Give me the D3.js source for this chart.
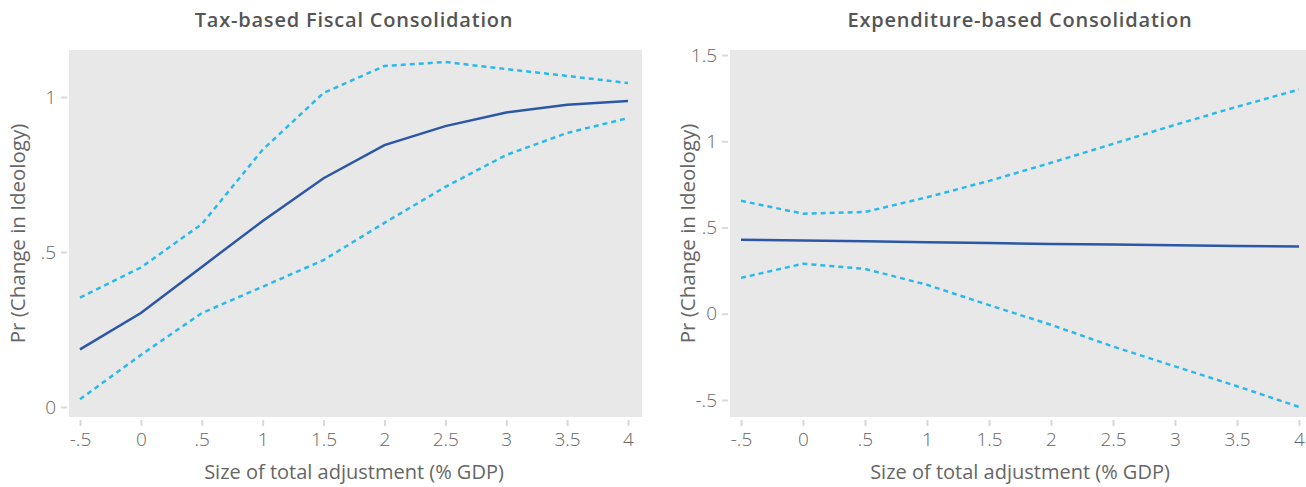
<!DOCTYPE html>
<html>
<head>
<meta charset="utf-8">
<script src="https://cdn.jsdelivr.net/npm/d3@7"></script>
<style>
  body { margin: 0; background: #fff; }
  text { font-family: "Open Sans", "Lato", sans-serif; }
</style>
</head>
<body>
<div id="chart"></div>
<script>
// x values shared by both panels
let xVals = [-0.5, 0, 0.5, 1, 1.5, 2, 2.5, 3, 3.5, 4];

// tax-based panel
let taxMean  = [0.186, 0.303, 0.452, 0.600, 0.738, 0.845, 0.906, 0.950, 0.975, 0.987];
let taxUpper = [0.353, 0.450, 0.590, 0.830, 1.013, 1.100, 1.113, 1.090, 1.068, 1.045];
let taxLower = [0.025, 0.168, 0.303, 0.388, 0.474, 0.594, 0.710, 0.813, 0.884, 0.932];

// expenditure-based panel
let expMean  = [0.429, 0.425, 0.420, 0.415, 0.410, 0.405, 0.401, 0.397, 0.393, 0.390];
let expUpper = [0.655, 0.580, 0.590, 0.675, 0.770, 0.875, 0.985, 1.095, 1.200, 1.300];
let expLower = [0.208, 0.290, 0.260, 0.168, 0.050, -0.064, -0.190, -0.305, -0.420, -0.540];

let xTicks = [-0.5, 0, 0.5, 1, 1.5, 2, 2.5, 3, 3.5, 4];
let taxYTicks = [0, 0.5, 1];
let expYTicks = [-0.5, 0, 0.5, 1, 1.5];

let titles = ["Tax-based Fiscal Consolidation", "Expenditure-based Consolidation"];
let xTitle = "Size of total adjustment (% GDP)";
let yTitle = "Pr (Change in Ideology)";

let svg = d3.select("#chart").append("svg").attr("width", 1306).attr("height", 487);

let fmt = d => d === 0 ? "0" : String(d).replace("0.", ".");

let panels = [
  {title: titles[0], mean: taxMean, upper: taxUpper, lower: taxLower, yTicks: taxYTicks,
   x: d3.scaleLinear().domain([-0.5, 4]).range([80, 628]),
   y: d3.scaleLinear().domain([0, 1]).range([407, 97]),
   bg: [69, 642], yTitleX: 25},
  {title: titles[1], mean: expMean, upper: expUpper, lower: expLower, yTicks: expYTicks,
   x: d3.scaleLinear().domain([-0.5, 4]).range([741, 1299]),
   y: d3.scaleLinear().domain([-0.5, 1.5]).range([400, 55]),
   bg: [730, 1310], yTitleX: 695}
];

let plotTop = 50, plotBottom = 417;

panels.forEach(function(p) {
  let g = svg.append("g");

  g.append("rect")
    .attr("x", p.bg[0]).attr("y", plotTop)
    .attr("width", p.bg[1] - p.bg[0]).attr("height", plotBottom - plotTop)
    .attr("fill", "#e8e8e8");

  // x axis
  let xAxis = g.append("g")
    .attr("transform", `translate(0,${plotBottom + 3})`)
    .call(d3.axisBottom(p.x).tickValues(xTicks).tickFormat(fmt).tickSize(6).tickPadding(7));
  xAxis.select(".domain").remove();
  xAxis.selectAll("line").attr("stroke", "#d9d9d9").attr("stroke-width", 2);
  xAxis.selectAll("text").attr("fill", "#666").attr("font-size", 19).attr("font-weight", 300)
    .attr("font-family", "\"Open Sans\", sans-serif");

  // y axis
  let yAxis = g.append("g")
    .attr("transform", `translate(${p.bg[0] - 2},0)`)
    .call(d3.axisLeft(p.y).tickValues(p.yTicks).tickFormat(fmt).tickSize(6).tickPadding(5));
  yAxis.select(".domain").remove();
  yAxis.selectAll("line").attr("stroke", "#d9d9d9").attr("stroke-width", 2);
  yAxis.selectAll("text").attr("fill", "#666").attr("font-size", 19).attr("font-weight", 300)
    .attr("font-family", "\"Open Sans\", sans-serif");

  let line = d3.line().x((d, i) => p.x(xVals[i])).y(d => p.y(d));

  [p.upper, p.lower].forEach(function(s) {
    g.append("path").datum(s)
      .attr("d", line)
      .attr("fill", "none")
      .attr("stroke", "#2bb9ec")
      .attr("stroke-width", 2.5)
      .attr("stroke-dasharray", "5,4");
  });

  g.append("path").datum(p.mean)
    .attr("d", line)
    .attr("fill", "none")
    .attr("stroke", "#2b57a6")
    .attr("stroke-width", 2.5);

  let cx = (p.x.range()[0] + p.x.range()[1]) / 2;

  g.append("text")
    .attr("x", cx).attr("y", 27)
    .attr("text-anchor", "middle")
    .attr("font-size", 20).attr("font-weight", 600)
    .attr("letter-spacing", 0.8)
    .attr("fill", "#555")
    .text(p.title);

  g.append("text")
    .attr("x", cx).attr("y", 479)
    .attr("text-anchor", "middle")
    .attr("font-size", 20)
    .attr("fill", "#666")
    .text(xTitle);

  g.append("text")
    .attr("transform", `translate(${p.yTitleX},${(plotTop + plotBottom) / 2}) rotate(-90)`)
    .attr("text-anchor", "middle")
    .attr("font-size", 20.5)
    .attr("fill", "#666")
    .text(yTitle);
});
</script>
</body>
</html>
